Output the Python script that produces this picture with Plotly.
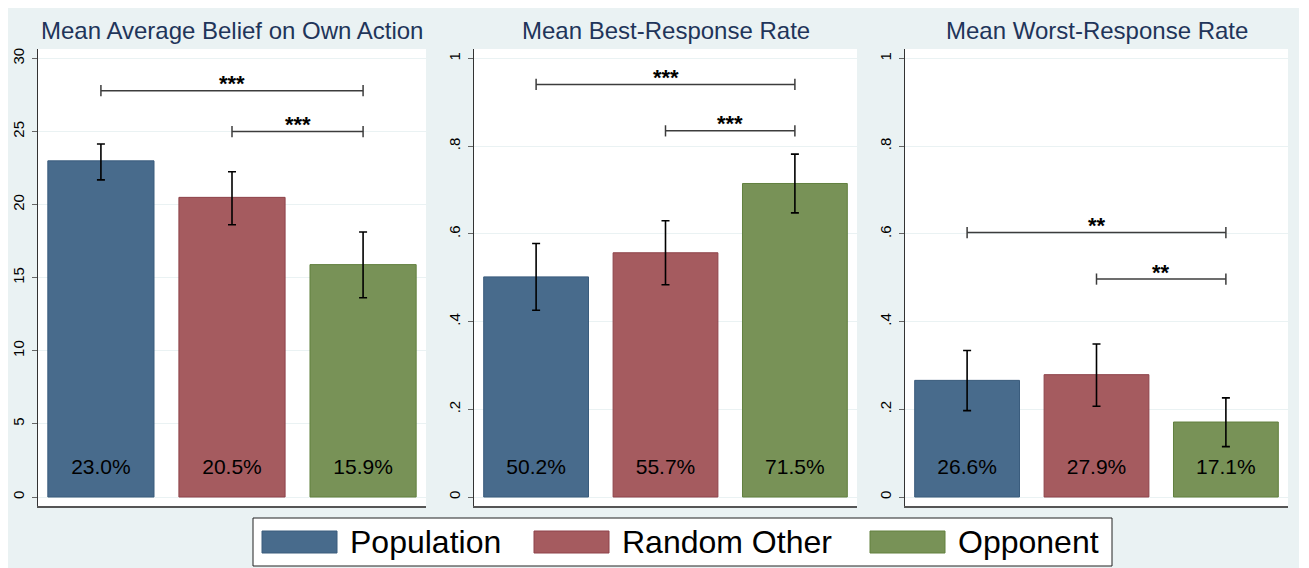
import plotly.graph_objects as go

# the page puts the figure 8 px in from the top-left corner
OFF = 8
W, H = 1309 - OFF, 568 - OFF

# ---------------- data ----------------
groups = ["Population", "Random Other", "Opponent"]
panel_titles = ["Mean Average Belief on Own Action", "Mean Best-Response Rate", "Mean Worst-Response Rate"]

belief_mean = [23.0, 20.5, 15.9]
belief_hi = [24.15, 22.25, 18.13]
belief_lo = [21.7, 18.63, 13.63]

best_mean = [0.502, 0.557, 0.715]
best_hi = [0.578, 0.630, 0.782]
best_lo = [0.426, 0.484, 0.648]

worst_mean = [0.266, 0.279, 0.171]
worst_hi = [0.334, 0.349, 0.226]
worst_lo = [0.197, 0.207, 0.115]

value_labels_pct = [
    [23.0, 20.5, 15.9],
    [50.2, 55.7, 71.5],
    [26.6, 27.9, 17.1],
]

# significance brackets: (from group, to group, height, stars)
belief_brackets = [(1, 3, 27.8, "***"), (2, 3, 25.0, "***")]
best_brackets = [(1, 3, 0.941, "***"), (2, 3, 0.835, "***")]
worst_brackets = [(1, 3, 0.603, "**"), (2, 3, 0.497, "**")]

belief_ticks = [0, 5, 10, 15, 20, 25, 30]
belief_ticktext = ["0", "5", "10", "15", "20", "25", "30"]
rate_ticks = [0, 0.2, 0.4, 0.6, 0.8, 1.0]
rate_ticktext = ["0", ".2", ".4", ".6", ".8", "1"]

# ---------------- style ----------------
BG = "#EAF2F3"
bar_colors = ["#486B8C", "#A55B5F", "#789257"]
bar_edges = ["#3A5C7D", "#8E434A", "#62803F"]
TITLE_COLOR = "#1F355A"
FONT = "Liberation Sans, Arial, sans-serif"


def px_x(v):
    return (v - OFF) / W


def px_y(v):
    return 1 - (v - OFF) / H


panels = [
    dict(mean=belief_mean, hi=belief_hi, lo=belief_lo, br=belief_brackets,
         tv=belief_ticks, tt=belief_ticktext, M=30.0, labels=value_labels_pct[0]),
    dict(mean=best_mean, hi=best_hi, lo=best_lo, br=best_brackets,
         tv=rate_ticks, tt=rate_ticktext, M=1.0, labels=value_labels_pct[1]),
    dict(mean=worst_mean, hi=worst_hi, lo=worst_lo, br=worst_brackets,
         tv=rate_ticks, tt=rate_ticktext, M=1.0, labels=value_labels_pct[2]),
]

x_px = [(38, 426), (474, 857), (905, 1288)]
y_top_px, y_bot_px = 49, 506
xs = [1, 2, 3]

fig = go.Figure()
layout = dict(
    width=W, height=H,
    margin=dict(l=0, r=0, t=0, b=0),
    paper_bgcolor=BG, plot_bgcolor="white",
    showlegend=False,
    font=dict(family=FONT, color="black"),
)

annotations = []
shapes = []

for i, p in enumerate(panels):
    n = "" if i == 0 else str(i + 1)
    xa, ya = "x" + n, "y" + n
    M = p["M"]
    fig.add_trace(go.Bar(
        x=xs, y=p["mean"], xaxis=xa, yaxis=ya,
        marker=dict(color=bar_colors, line=dict(color=bar_edges, width=1)),
        width=0.81,
        error_y=dict(type="data", symmetric=False,
                     array=[h - m for h, m in zip(p["hi"], p["mean"])],
                     arrayminus=[m - l for m, l in zip(p["mean"], p["lo"])],
                     color="black", thickness=1.6, width=4),
        hoverinfo="skip",
    ))
    # value labels
    fig.add_trace(go.Scatter(
        x=xs, y=[0.065 * M] * 3, xaxis=xa, yaxis=ya, mode="text",
        text=[f"{v:.1f}%" for v in p["labels"]],
        textposition="middle center",
        textfont=dict(size=21, color="black", family=FONT),
        hoverinfo="skip",
    ))
    # brackets
    for (a, b, h, stars) in p["br"]:
        fig.add_trace(go.Scatter(
            x=[a, b], y=[h, h], xaxis=xa, yaxis=ya, mode="lines+markers",
            line=dict(color="#3C3C3C", width=1.5),
            marker=dict(symbol="line-ns-open", size=8, line=dict(color="#3C3C3C", width=1.5)),
            hoverinfo="skip",
        ))
        annotations.append(dict(
            text=f"<b>{stars}</b>", x=(a + b) / 2, y=h, xref=xa, yref=ya,
            xanchor="center", yanchor="middle", yshift=7, showarrow=False,
            font=dict(size=22, color="black", family=FONT),
        ))

    x0, x1 = x_px[i]
    layout["xaxis" + n] = dict(
        domain=[px_x(x0), px_x(x1)], range=[0.52, 3.48],
        showline=True, linecolor="#555555", linewidth=1.5,
        showgrid=False, zeroline=False, showticklabels=False, ticks="",
        anchor=ya, fixedrange=True,
    )
    layout["yaxis" + n] = dict(
        domain=[px_y(y_bot_px), px_y(y_top_px)],
        range=[-0.0205 * M, 1.0217 * M],
        tickvals=p["tv"], ticktext=p["tt"], tickangle=-90,
        tickfont=dict(size=15, color="black", family=FONT),
        ticks="outside", ticklen=5, tickcolor="#666666", tickwidth=1,
        ticklabelstandoff=2,
        showline=True, linecolor="#333333", linewidth=1,
        showgrid=True, gridcolor=BG, gridwidth=1,
        zeroline=False, anchor=xa, fixedrange=True,
    )
    annotations.append(dict(
        text=panel_titles[i], x=px_x((x0 + x1) / 2), y=px_y(31),
        xref="paper", yref="paper", xanchor="center", yanchor="middle",
        showarrow=False, font=dict(size=24, color=TITLE_COLOR, family=FONT),
    ))

# white outer margin on the right
shapes.append(dict(type="rect", xref="paper", yref="paper",
                   x0=px_x(1299), x1=1, y0=0, y1=1,
                   fillcolor="white", line=dict(width=0), layer="below"))

# manual legend
shapes.append(dict(type="rect", xref="paper", yref="paper",
                   x0=px_x(253), x1=px_x(1112), y0=px_y(566), y1=px_y(518),
                   fillcolor="white", line=dict(color="#222222", width=1)))
sw_x = [262, 534, 870]
for k, g in enumerate(groups):
    shapes.append(dict(type="rect", xref="paper", yref="paper",
                       x0=px_x(sw_x[k]), x1=px_x(sw_x[k] + 75),
                       y0=px_y(553), y1=px_y(531),
                       fillcolor=bar_colors[k], line=dict(color=bar_edges[k], width=1)))
    annotations.append(dict(
        text=g, x=px_x(sw_x[k] + 86), y=px_y(542), xref="paper", yref="paper",
        xanchor="left", yanchor="middle", showarrow=False,
        font=dict(size=32, color="black", family=FONT),
    ))

layout["annotations"] = annotations
layout["shapes"] = shapes
fig.update_layout(**layout)
fig.write_html("out.html")
